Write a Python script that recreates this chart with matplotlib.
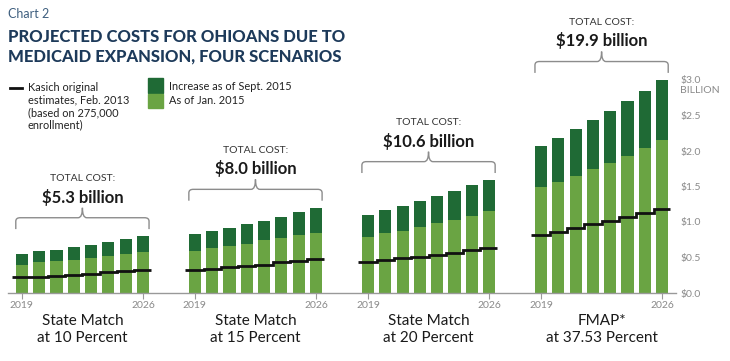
import matplotlib

matplotlib.use("Agg")

import matplotlib.pyplot as plt
from matplotlib.patches import PathPatch, Rectangle
from matplotlib.path import Path

plt.rcParams["font.family"] = ["Lato", "DejaVu Sans"]

# data (billions of dollars, 2019..2026)
years = ["2019", "2026"]
scenarios = [
    "State Match\nat 10 Percent",
    "State Match\nat 15 Percent",
    "State Match\nat 20 Percent",
    "FMAP*\nat 37.53 Percent",
]
totals = ["$5.3 billion", "$8.0 billion", "$10.6 billion", "$19.9 billion"]
jan_2015 = [
    [0.39, 0.43, 0.45, 0.46, 0.50, 0.52, 0.55, 0.58],
    [0.59, 0.63, 0.66, 0.69, 0.74, 0.77, 0.82, 0.85],
    [0.79, 0.84, 0.88, 0.93, 0.98, 1.03, 1.08, 1.15],
    [1.49, 1.56, 1.65, 1.75, 1.83, 1.93, 2.04, 2.15],
]
sept_2015 = [
    [0.55, 0.59, 0.61, 0.65, 0.68, 0.72, 0.76, 0.80],
    [0.83, 0.88, 0.92, 0.97, 1.02, 1.07, 1.14, 1.20],
    [1.10, 1.17, 1.23, 1.30, 1.37, 1.44, 1.52, 1.59],
    [2.07, 2.18, 2.31, 2.44, 2.56, 2.70, 2.85, 3.00],
]
kasich = [
    [0.22, 0.23, 0.24, 0.26, 0.27, 0.29, 0.31, 0.32],
    [0.32, 0.34, 0.37, 0.38, 0.40, 0.43, 0.45, 0.48],
    [0.43, 0.46, 0.49, 0.51, 0.54, 0.56, 0.60, 0.63],
    [0.82, 0.86, 0.91, 0.97, 1.02, 1.07, 1.12, 1.18],
]
y_ticks = [0.0, 0.5, 1.0, 1.5, 2.0, 2.5, 3.0]

DARK = "#1f6a35"
LIGHT = "#6aa443"
NAVY = "#1d3a5a"
GREY = "#8a8a8a"
W, H = 730, 361
BAR_W = 0.7
GROUP_STEP = 10


def fx(px):
    return px / W


def fy(px):
    return 1 - px / H


def brace(ax, xl, xr, yb):
    h, cusp, rx, ry = 0.16, 0.14, 0.25, 0.05
    xc = (xl + xr) / 2
    yt = yb + h
    verts = [
        (xl, yb), (xl, yt - ry), (xl, yt), (xl + rx, yt), (xc - rx, yt),
        (xc, yt), (xc, yt + cusp),
        (xc, yt), (xc + rx, yt), (xr - rx, yt), (xr, yt), (xr, yt - ry), (xr, yb),
    ]
    codes = [
        Path.MOVETO, Path.LINETO, Path.CURVE3, Path.CURVE3, Path.LINETO,
        Path.CURVE3, Path.CURVE3,
        Path.CURVE3, Path.CURVE3, Path.LINETO, Path.CURVE3, Path.CURVE3, Path.LINETO,
    ]
    ax.add_patch(PathPatch(Path(verts, codes), fill=False, edgecolor="#8c8c8c",
                           lw=1.0, clip_on=False))


fig = plt.figure(figsize=(W / 100, H / 100), dpi=100)
ax = fig.add_axes([fx(8), fy(293), 668 / W, 213 / H])
ax.set_xlim(-0.8, 37.8)
ax.set_ylim(0, 3.0)

tick_pos, tick_lab = [], []
for g in range(4):
    xs = [GROUP_STEP * g + i for i in range(8)]
    ax.bar(xs, sept_2015[g], width=BAR_W, color=DARK, linewidth=0)
    ax.bar(xs, jan_2015[g], width=BAR_W, color=LIGHT, linewidth=0)
    edges = [xs[0] - 0.58] + [x + 0.5 for x in xs]
    edges[-1] = xs[-1] + 0.48
    ax.stairs(kasich[g], edges, baseline=None, color="#111111", lw=2.0,
              clip_on=False, zorder=3)
    tick_pos += [xs[0], xs[-1]]
    tick_lab += years

    xl, xr = xs[0] - BAR_W / 2, xs[-1] + BAR_W / 2
    yb = max(sept_2015[g]) + 0.1
    brace(ax, xl, xr, yb)
    xc = (xl + xr) / 2
    ax.text(xc, yb + 0.45, totals[g], ha="center", va="center", fontsize=12,
            fontweight="bold", color="#1a1a1a", clip_on=False)
    ax.text(xc, yb + 0.71, "TOTAL COST:", ha="center", va="center", fontsize=7.5,
            color="#333333", clip_on=False)
    ax.text(xc, -0.29, scenarios[g], ha="center", va="top", fontsize=11,
            color="#1a1a1a", linespacing=1.3, clip_on=False)

ax.set_xticks(tick_pos, tick_lab)
ax.tick_params(axis="x", length=4, width=0.8, color="#999999", labelsize=7.5,
               labelcolor=GREY, pad=2)
ax.yaxis.tick_right()
ax.set_yticks(y_ticks, [f"${v:.1f}" for v in y_ticks])
ax.tick_params(axis="y", length=0, labelsize=7.5, labelcolor=GREY, pad=3)
ax.text(38.05, 2.85, "BILLION", ha="left", va="center", fontsize=7.5, color=GREY,
        clip_on=False)
for side in ["top", "left", "right"]:
    ax.spines[side].set_visible(False)
ax.spines["bottom"].set_color("#999999")
ax.spines["bottom"].set_linewidth(1.0)

# header
fig.text(fx(8), fy(14), "Chart 2", fontsize=9, color="#3f5f7f", va="center")
fig.text(fx(8), fy(47), "PROJECTED COSTS FOR OHIOANS DUE TO\nMEDICAID EXPANSION, FOUR SCENARIOS",
         fontsize=12, fontweight="black", color=NAVY, va="center", linespacing=1.25)

# legend
fig.add_artist(plt.Line2D([fx(10), fx(22)], [fy(88), fy(88)], color="#111111", lw=2.0,
                          transform=fig.transFigure))
fig.text(fx(28), fy(82), "Kasich original\nestimates, Feb. 2013\n(based on 275,000\nenrollment)",
         fontsize=7.9, color="#222222", va="top", linespacing=1.17)
fig.add_artist(Rectangle((fx(148), fy(93)), fx(15), 15 / H, color=DARK,
                         transform=fig.transFigure))
fig.add_artist(Rectangle((fx(148), fy(108)), fx(15), 14 / H, color=LIGHT,
                         transform=fig.transFigure))
fig.text(fx(169), fy(86), "Increase as of Sept. 2015", fontsize=7.9, color="#222222",
         va="center")
fig.text(fx(169), fy(101), "As of Jan. 2015", fontsize=7.9, color="#222222", va="center")

fig.savefig("out.png", dpi=100)
